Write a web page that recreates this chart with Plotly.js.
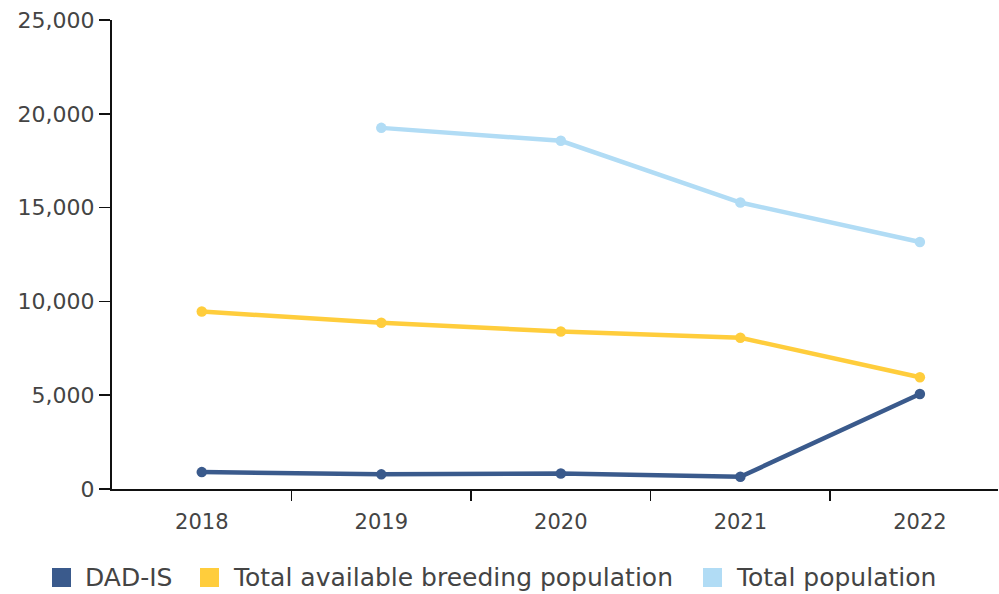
<!DOCTYPE html>
<html>
<head>
<meta charset="utf-8">
<script src="https://cdn.plot.ly/plotly-3.0.1.min.js"></script>
<style>
  html, body { margin: 0; padding: 0; background: #fff; }
  #chart { width: 999px; height: 594px; }
</style>
</head>
<body>
<div id="chart"></div>
<script>
// Population counts per year
const years = [2018, 2019, 2020, 2021, 2022];
const yearLabels = ['2018', '2019', '2020', '2021', '2022'];
const dadIs = [900, 780, 830, 650, 5060];
const breedingPopulation = [9460, 8860, 8400, 8060, 5960];
const totalPopulation = [null, 19250, 18560, 15270, 13170];

const yTicks = [0, 5000, 10000, 15000, 20000, 25000];
const yTickLabels = ['0', '5,000', '10,000', '15,000', '20,000', '25,000'];

const seriesNames = ['DAD-IS', 'Total available breeding population', 'Total population'];
const seriesColors = ['#3a5a8c', '#ffcd3c', '#b1dcf5'];
const seriesValues = [dadIs, breedingPopulation, totalPopulation];

// Page geometry
const W = 999, H = 594;
const M = { l: 112, r: 1, t: 20, b: 105 };
const plotW = W - M.l - M.r, plotH = H - M.t - M.b;
const px2x = px => (px - M.l) / plotW;
const py2y = py => (H - M.b - py) / plotH;

const traces = [];
// Drawn back to front: light blue, yellow, dark blue
[2, 1, 0].forEach(i => {
  traces.push({
    type: 'scatter',
    mode: 'lines+markers',
    x: years,
    y: seriesValues[i],
    name: seriesNames[i],
    line: { color: seriesColors[i], width: 4.5 },
    marker: { color: seriesColors[i], size: 10.5 },
    showlegend: false,
    connectgaps: false
  });
});

// Legend row below the axis: square key + label per series
const legendKeyLeft = [52, 200, 703];
const legendRowY = 577;
const keySize = 19;
const shapes = [];
const annotations = [];
seriesNames.forEach((name, i) => {
  const left = legendKeyLeft[i];
  shapes.push({
    type: 'rect', xref: 'paper', yref: 'paper',
    x0: px2x(left), x1: px2x(left + keySize),
    y0: py2y(legendRowY + keySize / 2 + 0.5), y1: py2y(legendRowY - keySize / 2 + 0.5),
    fillcolor: seriesColors[i], line: { width: 0 }
  });
  annotations.push({
    xref: 'paper', yref: 'paper',
    x: px2x(left + keySize + 12), y: py2y(legendRowY),
    xanchor: 'left', yanchor: 'middle',
    text: name, showarrow: false,
    font: { family: '"DejaVu Sans", sans-serif', size: 25, color: '#444444' }
  });
});

const layout = {
  width: W,
  height: H,
  margin: M,
  paper_bgcolor: '#ffffff',
  plot_bgcolor: '#ffffff',
  font: { family: '"DejaVu Sans", sans-serif', color: '#444444' },
  showlegend: false,
  shapes: shapes,
  annotations: annotations,
  xaxis: {
    type: 'linear',
    range: [2017.5, 2022.435],
    tickvals: years,
    ticktext: yearLabels,
    ticks: '',
    ticklabelstandoff: 13,
    minor: {
      tickvals: [2018.5, 2019.5, 2020.5, 2021.5],
      ticks: 'outside',
      ticklen: 10,
      tickwidth: 1.5,
      tickcolor: '#111111',
      showgrid: false
    },
    showgrid: false,
    zeroline: false,
    showline: true,
    linecolor: '#111111',
    linewidth: 2,
    tickfont: { family: '"DejaVu Sans", sans-serif', size: 21, color: '#444444' },
    fixedrange: true
  },
  yaxis: {
    range: [0, 25000],
    tickvals: yTicks,
    ticktext: yTickLabels,
    showgrid: false,
    zeroline: false,
    showline: true,
    linecolor: '#111111',
    linewidth: 2,
    ticks: 'outside',
    ticklen: 11,
    tickwidth: 1.5,
    tickcolor: '#111111',
    tickfont: { family: '"DejaVu Sans", sans-serif', size: 22, color: '#444444' },
    fixedrange: true
  }
};

Plotly.newPlot('chart', traces, layout, { displayModeBar: false, staticPlot: true });
</script>
</body>
</html>
